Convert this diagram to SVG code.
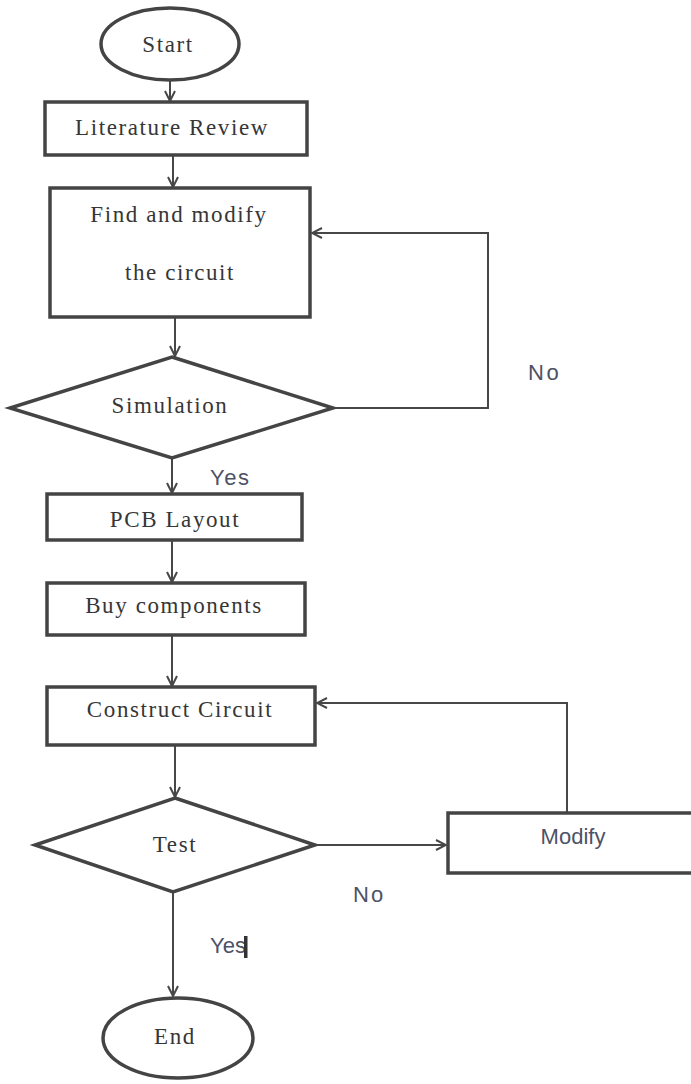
<svg xmlns="http://www.w3.org/2000/svg" width="691" height="1084" viewBox="0 0 691 1084">
<defs>
<style>
.shape{fill:#fff;stroke:#444;stroke-width:3.5}
.conn{fill:none;stroke:#474747;stroke-width:2}
.t{font-family:"Liberation Serif","Times New Roman",serif;font-size:23px;fill:#363636;letter-spacing:1.6px;text-anchor:middle}
.s{font-family:"Liberation Sans",Arial,sans-serif;font-size:22px;fill:#4d5266}
</style>
<marker id="arr" viewBox="0 0 12 12" refX="11" refY="6" markerWidth="12" markerHeight="12" markerUnits="userSpaceOnUse" orient="auto">
<path d="M1,1 L11,6 L1,11" fill="none" stroke="#474747" stroke-width="2"/>
</marker>
</defs>
<rect width="691" height="1084" fill="#fff"/>
<g id="connectors">
<path class="conn" d="M170,80 V101" marker-end="url(#arr)"/>
<path class="conn" d="M173,155 V187" marker-end="url(#arr)"/>
<path class="conn" d="M175,317 V356" marker-end="url(#arr)"/>
<path class="conn" d="M333,408 H488 V233 H312" marker-end="url(#arr)"/>
<path class="conn" d="M172,458 V493" marker-end="url(#arr)"/>
<path class="conn" d="M172,540 V582" marker-end="url(#arr)"/>
<path class="conn" d="M172,635 V686" marker-end="url(#arr)"/>
<path class="conn" d="M175,745 V797" marker-end="url(#arr)"/>
<path class="conn" d="M315,845 H446" marker-end="url(#arr)"/>
<path class="conn" d="M567,813 V703 H317" marker-end="url(#arr)"/>
<path class="conn" d="M173,892 V996" marker-end="url(#arr)"/>
</g>
<g id="start">
<ellipse class="shape" cx="170" cy="44" rx="69" ry="36"/>
<text class="t" x="168" y="52">Start</text>
</g>
<g id="literature">
<rect class="shape" x="45" y="102" width="262" height="53"/>
<text class="t" x="172" y="135">Literature Review</text>
</g>
<g id="find">
<rect class="shape" x="50" y="188" width="260" height="129"/>
<text class="t" x="179" y="222">Find and modify</text>
<text class="t" x="180" y="280">the circuit</text>
</g>
<g id="simulation">
<polygon class="shape" points="172,357 333,408 172,458 10,408"/>
<text class="t" x="170" y="413">Simulation</text>
</g>
<text class="s" x="210" y="485" letter-spacing="1.5">Yes</text>
<text class="s" x="528" y="380" letter-spacing="2.5">No</text>
<g id="pcb">
<rect class="shape" x="47" y="494" width="255" height="46"/>
<text class="t" x="175" y="527">PCB Layout</text>
</g>
<g id="buy">
<rect class="shape" x="47" y="583" width="258" height="52"/>
<text class="t" x="174" y="613">Buy components</text>
</g>
<g id="construct">
<rect class="shape" x="47" y="687" width="268" height="58"/>
<text class="t" x="180" y="717">Construct Circuit</text>
</g>
<g id="test">
<polygon class="shape" points="175,798 315,845 173,892 35,845"/>
<text class="t" x="175" y="852">Test</text>
</g>
<g id="modify">
<rect class="shape" x="448" y="813" width="260" height="60"/>
<text class="s" x="573" y="844" text-anchor="middle" font-size="21">Modify</text>
</g>
<text class="s" x="353" y="902" letter-spacing="2">No</text>
<text class="s" x="210" y="953">Yes</text>
<rect x="244" y="936" width="3.5" height="22" fill="#333"/>
<g id="end">
<ellipse class="shape" cx="178" cy="1038" rx="75" ry="40"/>
<text class="t" x="175" y="1044">End</text>
</g>
</svg>
